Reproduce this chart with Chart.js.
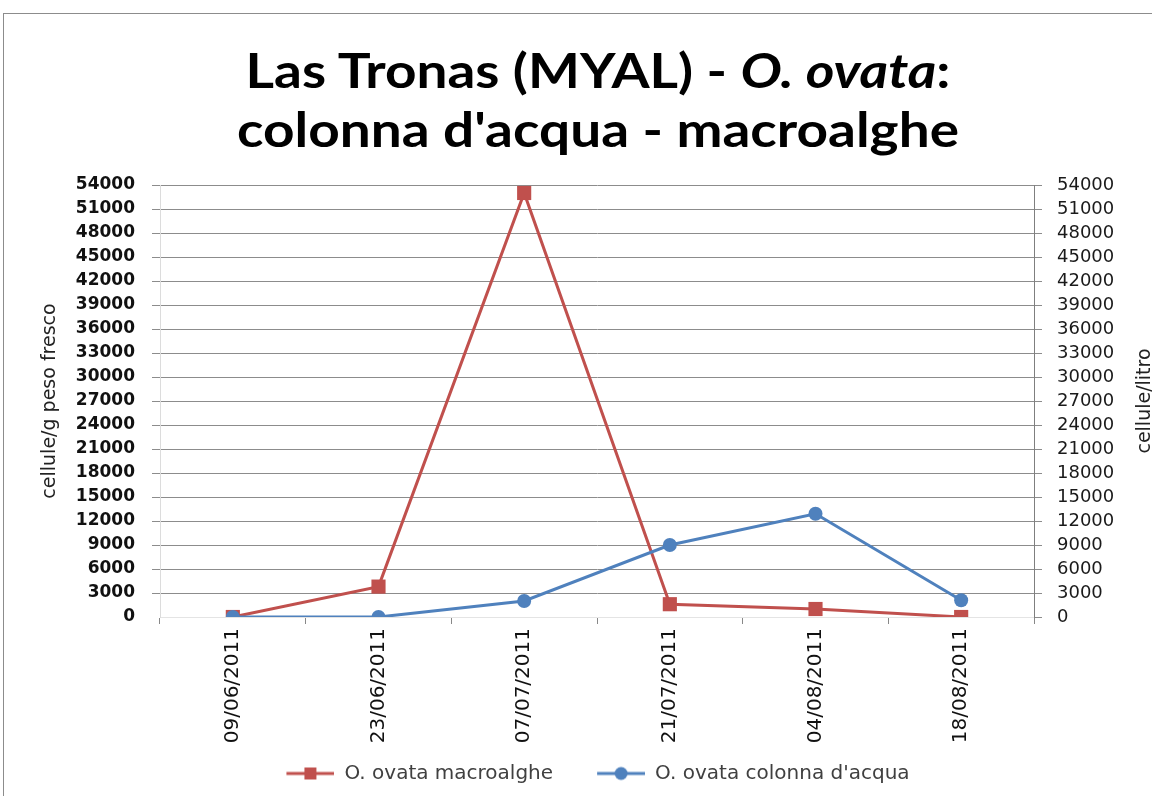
<!DOCTYPE html>
<html>
<head>
<meta charset="utf-8" />
<title>Las Tronas (MYAL) - O. ovata</title>
<script src="https://cdn.jsdelivr.net/npm/chart.js"></script>
<style>
  html, body { margin: 0; height: 100%; background: #fff; overflow: hidden; }
  #frame {
    position: absolute; left: 3px; top: 13px;
    width: 1188px; height: 830px;
    border-top: 1px solid #8c8c8c; border-left: 1px solid #8c8c8c;
  }
  #chart { position: absolute; left: 0; top: 0; }
  #titolo {
    position: absolute; left: 0; top: 26px; width: 1188px;
    text-align: center; color: #000;
    font-family: Lato, sans-serif; font-weight: bold;
    font-size: 48px; line-height: 59px;
    transform: scaleX(1.145); transform-origin: 594px 0;
  }
</style>
</head>
<body>
<div id="frame">
  <canvas id="chart" width="1188" height="830"></canvas>
  <div id="titolo">Las Tronas (MYAL) - <i>O. ovata</i>:<br>colonna d'acqua - macroalghe</div>
</div>

<script>
// date di campionamento
const date = ['09/06/2011', '23/06/2011', '07/07/2011', '21/07/2011', '04/08/2011', '18/08/2011'];

// cellule/g peso fresco
const macroalghe = [0, 3800, 53000, 1600, 1000, 0];
// cellule/litro
const colonnaAcqua = [0, 0, 2000, 9000, 12900, 2100];

const yMin = 0;
const yMax = 54000;
const yStep = 3000;

const ROSSO = '#C0504D';
const BLU = '#4F81BD';
const FONT = '"DejaVu Sans", sans-serif';

// icona legenda: linea con marcatore, con uno spazio vuoto a sinistra
// che separa le due voci
const VUOTO = 34;
function iconaLegenda(colore, forma) {
  const c = document.createElement('canvas');
  c.width = VUOTO + 48; c.height = 16;
  const g = c.getContext('2d');
  g.strokeStyle = colore;
  g.lineWidth = 3;
  g.beginPath(); g.moveTo(VUOTO, 8); g.lineTo(VUOTO + 48, 8); g.stroke();
  g.fillStyle = colore;
  if (forma === 'rect') {
    g.fillRect(VUOTO + 18, 2, 12, 12);
  } else {
    g.beginPath(); g.arc(VUOTO + 24, 8, 6.5, 0, Math.PI * 2); g.fill();
  }
  return c;
}

// titolo dell'asse destro, letto dal basso verso l'alto come quello sinistro
const titoloDestro = {
  id: 'titoloDestro',
  afterDraw(chart) {
    const { ctx, chartArea } = chart;
    ctx.save();
    ctx.translate(1141, (chartArea.top + chartArea.bottom) / 2);
    ctx.rotate(-Math.PI / 2);
    ctx.font = '19px ' + FONT;
    ctx.fillStyle = '#222';
    ctx.textAlign = 'center';
    ctx.textBaseline = 'middle';
    ctx.fillText('cellule/litro', 0, 0);
    ctx.restore();
  }
};

const coloreGriglia = ctx => ctx.tick && ctx.tick.value === 0 ? 'rgba(0,0,0,0)' : '#8c8c8c';

new Chart(document.getElementById('chart'), {
  type: 'line',
  data: {
    labels: date,
    datasets: [
      {
        label: 'O. ovata macroalghe',
        data: macroalghe,
        yAxisID: 'y',
        borderColor: ROSSO,
        backgroundColor: ROSSO,
        borderWidth: 3,
        pointStyle: 'rect',
        pointRadius: 10,
        pointBorderWidth: 0,
        tension: 0,
        order: 1
      },
      {
        label: 'O. ovata colonna d\'acqua',
        data: colonnaAcqua,
        yAxisID: 'y2',
        borderColor: BLU,
        backgroundColor: BLU,
        borderWidth: 3,
        pointStyle: 'circle',
        pointRadius: 7,
        pointBorderWidth: 0,
        tension: 0,
        order: 0
      }
    ]
  },
  options: {
    responsive: false,
    animation: false,
    layout: { padding: { top: 171, bottom: 50.5, left: 0, right: VUOTO } },
    plugins: {
      tooltip: { enabled: false },
      legend: {
        position: 'bottom',
        labels: {
          usePointStyle: true,
          pointStyleWidth: VUOTO + 48,
          padding: 10,
          color: '#404040',
          font: { family: FONT, size: 20 },
          generateLabels(chart) {
            return chart.data.datasets.map((ds, i) => ({
              text: ds.label,
              pointStyle: iconaLegenda(ds.borderColor, ds.pointStyle),
              fillStyle: ds.borderColor,
              strokeStyle: ds.borderColor,
              lineWidth: 0,
              fontColor: '#404040',
              datasetIndex: i
            }));
          }
        }
      }
    },
    scales: {
      x: {
        offset: true,
        grid: { display: true, drawOnChartArea: false, offset: true, tickLength: 7, color: '#888' },
        border: { display: true, color: '#e4e4e4' },
        ticks: {
          autoSkip: false, minRotation: 90, maxRotation: 90, padding: 4,
          color: '#111', font: { family: FONT, size: 20 }
        },
        afterFit(s) { s.height = 136.5; }
      },
      y: {
        position: 'left',
        min: yMin, max: yMax,
        grid: { color: coloreGriglia, tickLength: 8 },
        border: { display: true, color: '#dcdcdc' },
        ticks: {
          stepSize: yStep, autoSkip: false, padding: 17,
          color: '#111', font: { family: FONT, size: 17, weight: 'bold' },
          callback: v => String(v)
        },
        title: {
          display: true, text: 'cellule/g peso fresco',
          color: '#222', font: { family: FONT, size: 19 },
          padding: { top: 34.5, bottom: 0 }
        },
        afterFit(s) { s.width = 156; }
      },
      y2: {
        position: 'right',
        min: yMin, max: yMax,
        grid: { drawOnChartArea: false, color: '#8c8c8c', tickLength: 8 },
        border: { display: true, color: '#7f7f7f' },
        ticks: {
          stepSize: yStep, autoSkip: false, padding: 15,
          color: '#1a1a1a', font: { family: FONT, size: 18 },
          callback: v => String(v)
        },
        afterFit(s) { s.width = 158 - VUOTO; }
      }
    }
  },
  plugins: [titoloDestro]
});
</script>
</body>
</html>
